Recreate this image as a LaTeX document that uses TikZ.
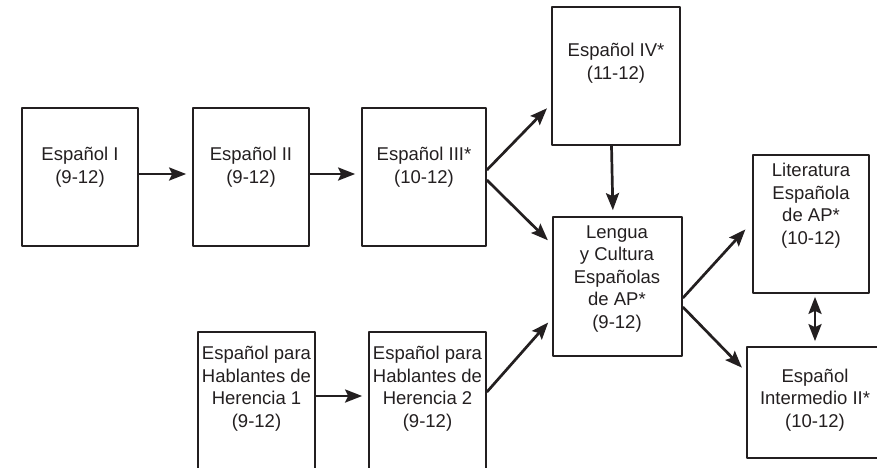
\documentclass[tikz,border=0pt]{standalone}
\usepackage{fontspec}
\setmainfont{Liberation Sans}
\usetikzlibrary{arrows.meta}
\definecolor{tinta}{RGB}{35,31,32}
\begin{document}
\begin{tikzpicture}[x=1pt,y=-1pt,line join=round,color=tinta,
		>={Stealth[length=17pt,width=13pt,inset=3pt]},
		caja/.style={draw,line width=1.7pt,inner sep=0pt},
		texto/.style={align=center,inner sep=0pt,font=\fontsize{18.5}{22.5}\selectfont},
		flecha/.style={->,line width=2.7pt,shorten >=6pt}]
	\clip (0,0) rectangle (877,467);
	% cajas
	\foreach \n/\x/\y/\w/\h in {e1/80/177/116/138, e2/251/177/116/138, e3/424/177/124/138,
			e4/616/76/128/138, lc/617.5/286.5/129/139, lit/811/224/116/138,
			int/815/402.5/136/111, h1/256.5/412/117/160, h2/427.5/412/117/160}
	\node[caja,minimum width=\w pt,minimum height=\h pt] (\n) at (\x,\y) {};
	% textos
	\node[texto] (t1) at (80,167) {Español I\\(9-12)};
	\node[texto] (t2) at (251,167) {Español II\\(9-12)};
	\node[texto] (t3) at (424,167) {Español III*\\(10-12)};
	\node[texto] (t4) at (616,63) {Español IV*\\(11-12)};
	\node[texto] (tlc) at (617,279) {Lengua\\y Cultura\\Españolas\\de AP*\\(9-12)};
	\node[texto] (tlit) at (811,205.5) {Literatura\\Española\\de AP*\\(10-12)};
	\node[texto] (tint) at (815,400) {Español\\Intermedio II*\\(10-12)};
	\node[texto] (th1) at (256.5,388.5) {Español para\\Hablantes de\\Herencia 1\\(9-12)};
	\node[texto] (th2) at (427.5,388.5) {Español para\\Hablantes de\\Herencia 2\\(9-12)};
	% flechas
	\draw[flecha] ([yshift=3pt]e1.east) -- ([yshift=3pt]e2.west);
	\draw[flecha] ([yshift=3pt]e2.east) -- ([yshift=3pt]e3.west);
	\draw[flecha] ([yshift=7pt]e3.east) -- ([yshift=-28pt]e4.west);
	\draw[flecha] ([yshift=-3pt]e3.east) -- ([yshift=42pt]lc.west);
	\draw[flecha] ([xshift=-4.5pt]e4.south) -- ([xshift=-4.5pt]lc.north);
	\draw[flecha] ([yshift=16pt]h1.east) -- ([yshift=16pt]h2.west);
	\draw[flecha] ([yshift=20pt]h2.east) -- ([yshift=-31.5pt]lc.west);
	\draw[flecha,shorten >=10pt] ([yshift=-11.5pt]lc.east) -- ([yshift=2pt]lit.west);
	\draw[flecha] ([yshift=-20.5pt]lc.east) -- ([yshift=30.5pt]int.west);
	\draw[flecha,<->,shorten <=3pt,shorten >=5pt] ([xshift=4pt]lit.south) -- (int.north);
\end{tikzpicture}
\end{document}
